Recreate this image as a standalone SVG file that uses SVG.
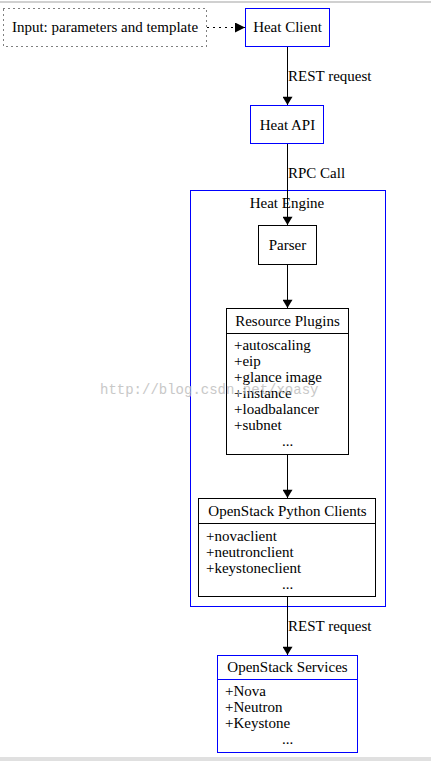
<svg xmlns="http://www.w3.org/2000/svg" width="431" height="761" viewBox="0 0 431 761">
<defs>
<style>
text{font-family:"Liberation Serif","Times New Roman",serif;font-size:15px;fill:#000}
.c{text-anchor:middle}
.blue{fill:#fff;stroke:#0000ff;stroke-width:1}
.blk{fill:#fff;stroke:#000;stroke-width:1}
.edge{stroke:#000;stroke-width:1;fill:none}
.wm{font-family:"Liberation Mono","Courier New",monospace;font-size:14px;fill:#bbb;opacity:0.8}
</style>
<marker id="ah" viewBox="0 0 10 10" refX="10" refY="5" markerWidth="10" markerHeight="10" markerUnits="userSpaceOnUse" orient="auto">
<path d="M0,0 L10,5 L0,10 z" fill="#000"/>
</marker>
<marker id="ahv" viewBox="0 0 10 12" refX="10" refY="6" markerWidth="12" markerHeight="10" markerUnits="userSpaceOnUse" orient="auto">
<path d="M0,0 L10,6 L0,12 z" fill="#000"/>
</marker>
</defs>
<rect x="0" y="0" width="431" height="761" fill="#fff"/>
<rect x="0" y="1" width="431" height="2" fill="#d0d0d0"/>
<rect x="0" y="757" width="431" height="4" fill="#e0e0e0"/>

<g id="cluster-heat-engine">
<rect x="190.5" y="190.5" width="195" height="416" fill="none" stroke="#0000ff"/>
<text class="c" x="287" y="208">Heat Engine</text>
</g>

<g id="edges">
<path class="edge" d="M207,27.5 L245,27.5" stroke-dasharray="2,4" marker-end="url(#ah)"/>
<path class="edge" d="M287.5,47 L287.5,105" marker-end="url(#ahv)"/>
<text x="288" y="81">REST request</text>
<path class="edge" d="M287.5,144 L287.5,225" marker-end="url(#ahv)"/>
<text x="288" y="178">RPC Call</text>
<path class="edge" d="M287.5,265 L287.5,308" marker-end="url(#ahv)"/>
<path class="edge" d="M287.5,455 L287.5,498" marker-end="url(#ahv)"/>
<path class="edge" d="M287.5,597 L287.5,655" marker-end="url(#ahv)"/>
<text x="288" y="631">REST request</text>
</g>

<g id="input">
<rect x="3.5" y="8.5" width="203" height="38" fill="#fff" stroke="#000" stroke-dasharray="1,4"/>
<text class="c" x="105" y="32">Input: parameters and template</text>
</g>

<g id="heat-client">
<rect class="blue" x="245.5" y="8.5" width="84" height="38"/>
<text class="c" x="287.5" y="32">Heat Client</text>
</g>

<g id="heat-api">
<rect class="blue" x="250.5" y="105.5" width="73" height="38"/>
<text class="c" x="287.5" y="130">Heat API</text>
</g>

<g id="parser">
<rect class="blk" x="258.5" y="225.5" width="58" height="39"/>
<text class="c" x="287.5" y="250">Parser</text>
</g>

<g id="resource-plugins">
<rect class="blk" x="226.5" y="308.5" width="122" height="146"/>
<line x1="226.5" y1="333.5" x2="348.5" y2="333.5" stroke="#000"/>
<text class="c" x="287.5" y="326">Resource Plugins</text>
<text x="234" y="350">+autoscaling</text>
<text x="234" y="366">+eip</text>
<text x="234" y="382">+glance image</text>
<text x="234" y="398">+instance</text>
<text x="234" y="414">+loadbalancer</text>
<text x="234" y="430">+subnet</text>
<text class="c" x="287.5" y="446">...</text>
</g>

<g id="python-clients">
<rect class="blk" x="198.5" y="498.5" width="177" height="98"/>
<line x1="198.5" y1="523.5" x2="375.5" y2="523.5" stroke="#000"/>
<text class="c" x="287.5" y="516">OpenStack Python Clients</text>
<text x="206" y="541">+novaclient</text>
<text x="206" y="557">+neutronclient</text>
<text x="206" y="573">+keystoneclient</text>
<text class="c" x="287.5" y="589">...</text>
</g>

<g id="openstack-services">
<rect class="blue" x="217.5" y="655.5" width="140" height="97"/>
<line x1="217.5" y1="679.5" x2="357.5" y2="679.5" stroke="#0000ff"/>
<text class="c" x="287.5" y="672">OpenStack Services</text>
<text x="225" y="696">+Nova</text>
<text x="225" y="712">+Neutron</text>
<text x="225" y="728">+Keystone</text>
<text class="c" x="287.5" y="744">...</text>
</g>

<text class="wm" x="100" y="394">http://blog.csdn.net/xoasy</text>
</svg>
